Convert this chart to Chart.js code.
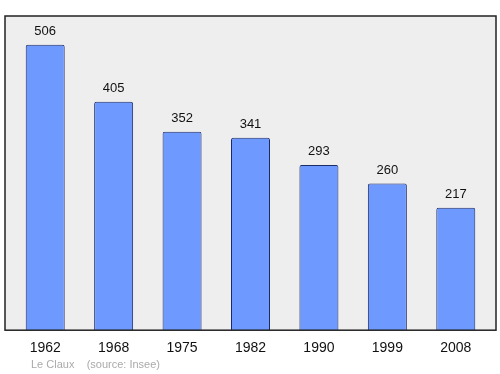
<!DOCTYPE html>
<html>
<head>
<meta charset="utf-8">
<script src="https://cdn.jsdelivr.net/npm/chart.js@4"></script>
<style>
	html, body { margin: 0; padding: 0; background: #fff; }
	#wrap { width: 500px; height: 374px; position: relative; }
</style>
</head>
<body>
<div id="wrap"><canvas id="pop_chart"></canvas></div>
<script>
// data
const years = ["1962", "1968", "1975", "1982", "1990", "1999", "2008"];
const population = [506, 405, 352, 341, 293, 260, 217];
const footer_text = "Le Claux    (source: Insee)";

// grey frame behind the bars, a bit wider than the category band
const frame_plugin = {
	id: "frame",
	beforeDatasetsDraw: function (chart) {
		let ctx = chart.ctx;
		let a = chart.chartArea;
		ctx.save();
		ctx.fillStyle = "#eeeeee";
		ctx.fillRect(a.left - 6, a.top, a.right - a.left + 12, a.bottom - a.top);
		ctx.restore();
	},
	afterDatasetsDraw: function (chart) {
		let ctx = chart.ctx;
		let a = chart.chartArea;
		ctx.save();
		ctx.strokeStyle = "#222222";
		ctx.lineWidth = 1.5;
		ctx.strokeRect(a.left - 6, a.top, a.right - a.left + 12, a.bottom - a.top);

		// value labels above each bar
		ctx.fillStyle = "#111111";
		ctx.font = "13px 'Liberation Sans', Arial, sans-serif";
		ctx.textAlign = "center";
		ctx.textBaseline = "bottom";
		chart.getDatasetMeta(0).data.forEach(function (bar, i) {
			ctx.fillText(String(population[i]), bar.x, bar.y - 7);
		});

		// footer
		ctx.fillStyle = "#aaaaaa";
		ctx.font = "11px 'Liberation Sans', Arial, sans-serif";
		ctx.textAlign = "left";
		ctx.textBaseline = "middle";
		ctx.fillText(footer_text, 31, 365);
		ctx.restore();
	},
};

var ctx = document.getElementById("pop_chart").getContext("2d");

var myChart = new Chart(ctx, {
	type: "bar",
	data: {
		labels: years,
		datasets: [
			{
				data: population,
				backgroundColor: "#6e9aff",
				borderColor: "#1c2a66",
				borderWidth: 1,
				borderRadius: 2,
				borderSkipped: "bottom",
				barPercentage: 0.57,
				categoryPercentage: 1,
			},
		],
	},
	options: {
		responsive: true,
		maintainAspectRatio: false,
		animation: false,
		events: [],
		layout: {
			padding: { top: 16, left: 11, right: 10, bottom: 15 },
		},
		plugins: {
			legend: { display: false },
			tooltip: { enabled: false },
		},
		scales: {
			x: {
				grid: { display: false },
				border: { display: false },
				ticks: {
					color: "#111111",
					padding: 2,
					font: { size: 14, family: "'Liberation Sans', Arial, sans-serif" },
				},
			},
			y: {
				display: false,
				min: 0,
				max: 557,
			},
		},
	},
	plugins: [frame_plugin],
});
</script>
</body>
</html>
